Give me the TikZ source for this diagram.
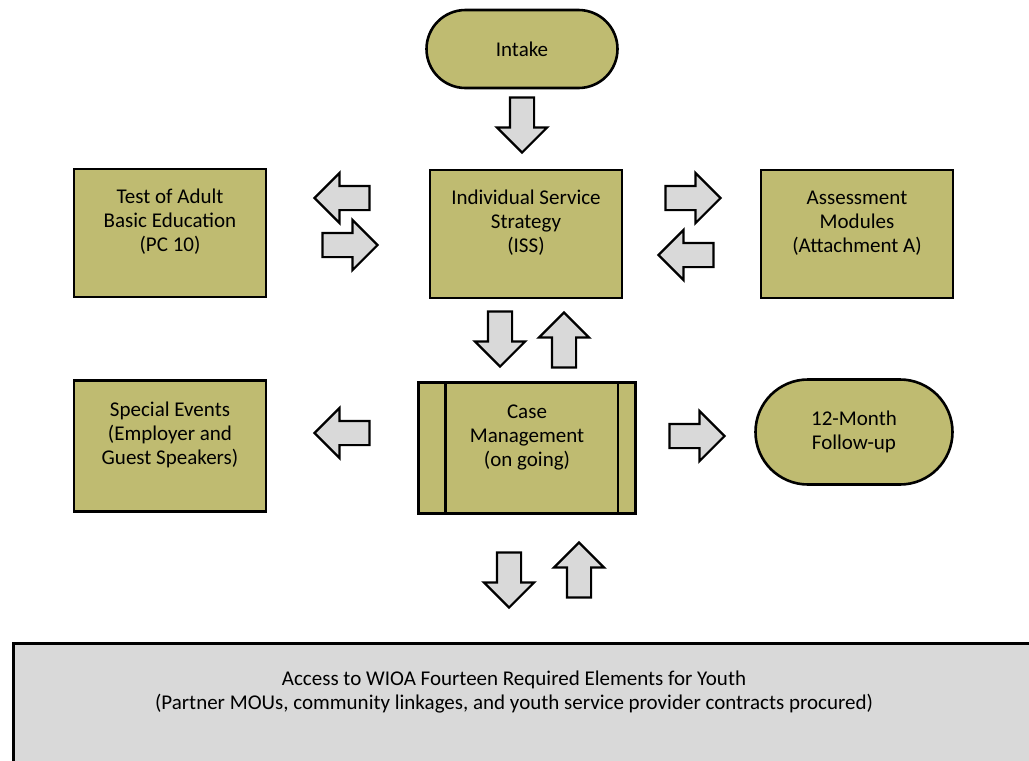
\documentclass[tikz,border=0pt]{standalone}
\usepackage{fontspec}
\setmainfont{Carlito}
\usetikzlibrary{shapes.arrows,shapes.misc}
\definecolor{boxfill}{RGB}{191,187,113}
\definecolor{arrowfill}{RGB}{217,217,217}
\begin{document}
\begin{tikzpicture}
    [   x=1pt, y=-1pt,
        font=\fontsize{21}{24}\selectfont,
        sbox/.style={draw=black,line width=2.6pt,fill=boxfill,align=center,inner sep=0pt,
                     minimum width=192pt,minimum height=#1},
        rbox/.style={rounded rectangle,draw=black,line width=2.6pt,fill=boxfill,align=center,
                     inner sep=0pt,minimum width=#1},
        raised/.style={text depth=25pt},
        barrow/.style={single arrow,draw=black,line width=2.2pt,fill=arrowfill,inner sep=11pt,
                       minimum height=55pt,single arrow head extend=13pt,shape border rotate=#1},
    ]
        \path[use as bounding box,clip] (0,0) rectangle (1029,761);
        \node[rbox=191pt,minimum height=78pt] (intake) at (522,49) {Intake};
        \node[sbox=128pt,raised] (iss) at (526,234) {Individual Service\\Strategy\\(ISS)};
        \node[sbox=128pt,raised] (tabe) at (170,233) {Test of Adult\\Basic Education\\(PC 10)};
        \node[sbox=128pt,raised] (assess) at (857,234) {Assessment\\Modules\\(Attachment A)};
        \node[sbox=131pt,raised,minimum width=217pt] (cm) at (527,448) {Case\\Management\\(on going)};
        \draw[line width=2.6pt] ([xshift=28pt]cm.north west) -- ([xshift=28pt]cm.south west);
        \draw[line width=2.6pt] ([xshift=-19pt]cm.north east) -- ([xshift=-19pt]cm.south east);
        \node[sbox=131pt,raised] (events) at (170,446) {Special Events\\(Employer and\\Guest Speakers)};
        \node[rbox=197pt,minimum height=105pt] (follow) at (854,432) {12-Month\\Follow-up};
        \node[draw=black,line width=2.6pt,fill=arrowfill,anchor=north west,
              minimum width=1060pt,minimum height=200pt] (access) at (12,642) {};
        \node[align=center] (access-text) at (514,692)
            {Access to WIOA Fourteen Required Elements for Youth\\
             (Partner MOUs, community linkages, and youth service provider contracts procured)};
        % block arrows
        \foreach \n/\x/\y/\r in {1/522/119/270, 2/348/198/180, 3/344/245/0, 4/687/198/0,
                                 5/692/255/180, 6/500/333/270, 7/564/346/90, 8/348/433/180,
                                 9/691/436/0, 10/509/574/270, 11/579/576/90}
        {   \node[barrow=\r] (a-\n) at (\x,\y) {};
        }
\end{tikzpicture}
\end{document}
